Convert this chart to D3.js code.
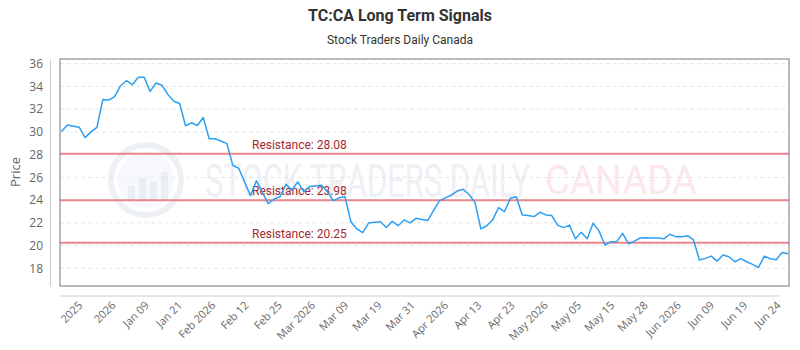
<html>
<head>
    <script src="https://cdn.jsdelivr.net/npm/d3@7"></script>
    <style>
        body { margin: 0; background: white; font-family: "Open Sans", sans-serif; }
        svg { display: block; }
    </style>
</head>
<body>
<svg id="chart"></svg>
<script>
    // closing prices, one per trading day
    const prices = [
        30.04, 30.6, 30.5, 30.4, 29.5, 30.0, 30.4, 32.85, 32.8, 33.1,
        34.06, 34.5, 34.15, 34.8, 34.8, 33.56, 34.3, 34.1, 33.3, 32.7,
        32.5, 30.54, 30.8, 30.56, 31.27, 29.4, 29.4, 29.2, 28.97, 27.07,
        26.8, 25.6, 24.4, 25.7, 24.7, 23.7, 24.1, 24.3, 25.4, 24.9,
        25.6, 24.75, 25.2, 25.25, 25.3, 24.75, 23.96, 24.2, 24.3, 22.1,
        21.47, 21.14, 22.0, 22.05, 22.1, 21.6, 22.14, 21.75, 22.26, 22.0,
        22.4, 22.3, 22.2, 23.1, 23.96, 24.2, 24.45, 24.8, 24.96, 24.5,
        23.8, 21.47, 21.75, 22.26, 23.35, 23.0, 24.16, 24.3, 22.7, 22.64,
        22.55, 22.93, 22.7, 22.64, 21.8, 21.58, 21.8, 20.6, 21.17, 20.6,
        21.96, 21.3, 20.05, 20.35, 20.35, 21.08, 20.17, 20.4, 20.67, 20.7,
        20.67, 20.67, 20.6, 21.0, 20.79, 20.79, 20.87, 20.5, 18.73, 18.88,
        19.08, 18.64, 19.17, 19.02, 18.58, 18.85, 18.58, 18.35, 18.08, 19.08,
        18.85, 18.76, 19.4, 19.29
    ];
    const resistance = [28.08, 23.98, 20.25];
    const xLabels = ["2025", "2026", "Jan 09", "Jan 21", "Feb 2026", "Feb 12", "Feb 25",
        "Mar 2026", "Mar 09", "Mar 19", "Mar 31", "Apr 2026", "Apr 13", "Apr 23",
        "May 2026", "May 05", "May 15", "May 28", "Jun 2026", "Jun 09", "Jun 19", "Jun 24"];
    const yTicks = [18, 20, 22, 24, 26, 28, 30, 32, 34, 36];

    const width = 800, height = 350;
    const plot = {left: 60, right: 789, top: 59, bottom: 286};

    const svg = d3.select("#chart").attr("width", width).attr("height", height);

    const x = d3.scaleLinear().domain([0, prices.length - 1]).range([61.5, 788]);
    const y = d3.scaleLinear().domain([16.45, 36.41]).range([plot.bottom, plot.top]);

    // title
    svg.append("text").attr("x", 400).attr("y", 21)
        .attr("text-anchor", "middle")
        .style("font-family", "Roboto, sans-serif").style("font-weight", "bold")
        .style("font-size", "16px").style("fill", "#333")
        .text("TC:CA Long Term Signals");
    svg.append("text").attr("x", 400).attr("y", 44)
        .attr("text-anchor", "middle")
        .style("font-family", "Roboto, sans-serif")
        .style("font-size", "12px").style("fill", "#333")
        .text("Stock Traders Daily Canada");

    // gridlines
    svg.append("g").selectAll("line").data(yTicks).enter().append("line")
        .attr("x1", plot.left).attr("x2", plot.right)
        .attr("y1", d => y(d)).attr("y2", d => y(d))
        .attr("stroke", "#e6e6e6").attr("stroke-dasharray", "4,3");

    // watermark
    const wm = svg.append("g").attr("opacity", 0.55);
    wm.append("circle").attr("cx", 146).attr("cy", 180).attr("r", 35)
        .attr("fill", "none").attr("stroke", "#dfe6f0").attr("stroke-width", 6);
    wm.append("circle").attr("cx", 146).attr("cy", 180).attr("r", 28)
        .attr("fill", "#f1f4f9");
    [[128, 14], [139, 22], [150, 18], [161, 28]].forEach(b => {
        wm.append("rect").attr("x", b[0]).attr("y", 200 - b[1]).attr("width", 7).attr("height", b[1])
            .attr("fill", "#d8e0ec");
    });
    wm.append("text").attr("x", 205).attr("y", 197)
        .attr("textLength", 325).attr("lengthAdjust", "spacingAndGlyphs")
        .style("font-family", "Roboto, sans-serif").style("font-size", "46px")
        .style("fill", "#dfe5ee").text("STOCK TRADERS DAILY");
    wm.append("text").attr("x", 545).attr("y", 194)
        .attr("textLength", 152).attr("lengthAdjust", "spacingAndGlyphs")
        .style("font-family", "Roboto, sans-serif").style("font-size", "40px")
        .style("fill", "#fbd5da").text("CANADA");

    // resistance lines
    const res = svg.append("g");
    res.selectAll("line").data(resistance).enter().append("line")
        .attr("x1", plot.left).attr("x2", plot.right)
        .attr("y1", d => y(d)).attr("y2", d => y(d))
        .attr("stroke", "#e8868d").attr("stroke-width", 2);
    res.selectAll("text").data(resistance).enter().append("text")
        .attr("x", 252).attr("y", d => y(d) - 5)
        .style("font-family", "Roboto, sans-serif").style("font-size", "12px")
        .style("fill", "#a3282f")
        .text(d => "Resistance: " + d.toFixed(2));

    // price line
    const line = d3.line().x((d, i) => x(i)).y(d => y(d));
    svg.append("path").datum(prices)
        .attr("d", line).attr("fill", "none")
        .attr("stroke", "#2d9ff2").attr("stroke-width", 1.5)
        .attr("stroke-linejoin", "round");

    // plot frame
    svg.append("rect").attr("x", plot.left).attr("y", plot.top)
        .attr("width", plot.right - plot.left).attr("height", plot.bottom - plot.top)
        .attr("fill", "none").attr("stroke", "#777");

    // y axis
    const yAxis = svg.append("g").attr("transform", "translate(50,0)")
        .call(d3.axisLeft(y).tickValues(yTicks).tickSize(0).tickPadding(7));
    yAxis.select(".domain").attr("stroke", "#ccc");
    yAxis.selectAll("text").style("font-size", "12px").style("fill", "#666")
        .style("font-family", "Open Sans, sans-serif");
    svg.append("text").attr("transform", "translate(20,172) rotate(-90)")
        .attr("text-anchor", "middle")
        .style("font-family", "Open Sans, sans-serif").style("font-size", "13px")
        .style("fill", "#666").text("Price");

    // x axis
    svg.append("line").attr("x1", plot.left).attr("x2", 780)
        .attr("y1", 296).attr("y2", 296).attr("stroke", "#ccc");
    const step = (prices.length - 1 - 3) / (xLabels.length - 1) * 0.985;
    svg.append("g").selectAll("text").data(xLabels).enter().append("text")
        .attr("transform", (d, i) => "translate(" + (x(3 + i * step) + 4) + ",306) rotate(-45)")
        .attr("text-anchor", "end")
        .style("font-family", "Open Sans, sans-serif").style("font-size", "11px")
        .style("fill", "#666")
        .text(d => d);
</script>
</body>
</html>
